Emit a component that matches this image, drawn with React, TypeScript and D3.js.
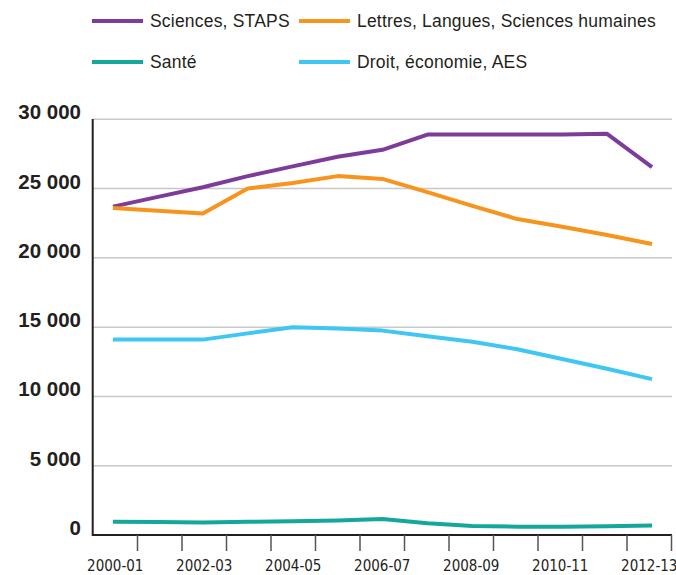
import * as d3 from 'd3';

const years = [
  '2000-01', '2001-02', '2002-03', '2003-04', '2004-05', '2005-06', '2006-07',
  '2007-08', '2008-09', '2009-10', '2010-11', '2011-12', '2012-13',
];

// effectifs, en milliers
const sciences = [23.7, 24.4, 25.1, 25.9, 26.6, 27.3, 27.8, 28.9, 28.9, 28.9, 28.9, 28.95, 26.55];
const lettres = [23.6, 23.4, 23.2, 25.0, 25.4, 25.9, 25.7, 24.75, 23.75, 22.8, 22.25, 21.65, 21.0];
const sante = [0.95, 0.93, 0.9, 0.95, 1.0, 1.05, 1.15, 0.85, 0.65, 0.6, 0.6, 0.63, 0.68];
const droit = [14.1, 14.1, 14.1, 14.55, 15.0, 14.9, 14.75, 14.35, 13.95, 13.4, 12.7, 12.0, 11.25];

const yTicks = [0, 5000, 10000, 15000, 20000, 25000, 30000];

const series = [
  { name: 'Sciences, STAPS', values: sciences, color: '#7d3c98' },
  { name: 'Lettres, Langues, Sciences humaines', values: lettres, color: '#f7941d' },
  { name: 'Santé', values: sante, color: '#14a89b' },
  { name: 'Droit, économie, AES', values: droit, color: '#40c6f2' },
];

const width = 676;
const height = 575;

export default function App() {
  const y = d3.scaleLinear().domain([0, 30000]).range([535, 119.3]);
  const xBand = d3.scaleBand<string>().domain(years).range([93, 671.5]);
  const xPoint = d3.scalePoint<string>().domain(years).range([113, 652]);

  const line = d3
    .line<number>()
    .x((_, i) => xPoint(years[i]) as number)
    .y((d) => y(d * 1000));

  const fmt = (v: number) => d3.format(',')(v).replace(',', ' ');

  return (
    <svg
      width={width}
      height={height}
      style={{ position: 'absolute', left: 0, top: 0, background: '#fff' }}
    >
      {/* legende */}
      {series.map((s, i) => {
        const lx = i % 2 === 0 ? 92 : 299;
        const ly = i < 2 ? 21 : 62;
        return (
          <g key={s.name}>
            <line x1={lx} x2={lx + 51} y1={ly} y2={ly} stroke={s.color} strokeWidth={4} />
            <text
              x={lx + 58}
              y={ly + 6}
              fontFamily="'Liberation Sans', Arial, sans-serif"
              fontSize={17.5}
              letterSpacing={0.2}
              fill='#231f20'
            >
              {s.name}
            </text>
          </g>
        );
      })}

      {/* grille */}
      {yTicks.slice(1).map((t) => (
        <line key={t} x1={93} x2={672} y1={y(t)} y2={y(t)} stroke='#c8c8c8' strokeWidth={1.5} />
      ))}

      {yTicks.map((t) => (
        <text
          key={t}
          x={81}
          y={y(t)}
          textAnchor='end'
          fontFamily="'Liberation Sans', Arial, sans-serif"
          fontWeight='bold'
          fontSize={20.5}
          fill='#231f20'
        >
          {fmt(t)}
        </text>
      ))}

      {/* axes */}
      <line x1={92.7} x2={92.7} y1={119} y2={536} stroke='#231f20' strokeWidth={2} />
      <line x1={92} x2={672} y1={535} y2={535} stroke='#231f20' strokeWidth={2} />
      {years.map((yr) => {
        const tx = (xBand(yr) as number) + xBand.bandwidth();
        return (
          <line key={yr} x1={tx} x2={tx} y1={535} y2={551} stroke='#555' strokeWidth={1.5} />
        );
      })}
      {years.map((yr, i) =>
        i % 2 === 0 ? (
          <text
            key={yr}
            x={(xBand(yr) as number) + xBand.bandwidth() / 2}
            y={571}
            textAnchor='middle'
            fontFamily="'Liberation Sans Narrow', 'DejaVu Sans Condensed', sans-serif"
            fontSize={15}
            fill='#231f20'
          >
            {yr}
          </text>
        ) : null
      )}

      {/* courbes */}
      {series.map((s) => (
        <path
          key={s.name}
          d={line(s.values) as string}
          fill='none'
          stroke={s.color}
          strokeWidth={4}
          strokeLinejoin='round'
        />
      ))}
    </svg>
  );
}
